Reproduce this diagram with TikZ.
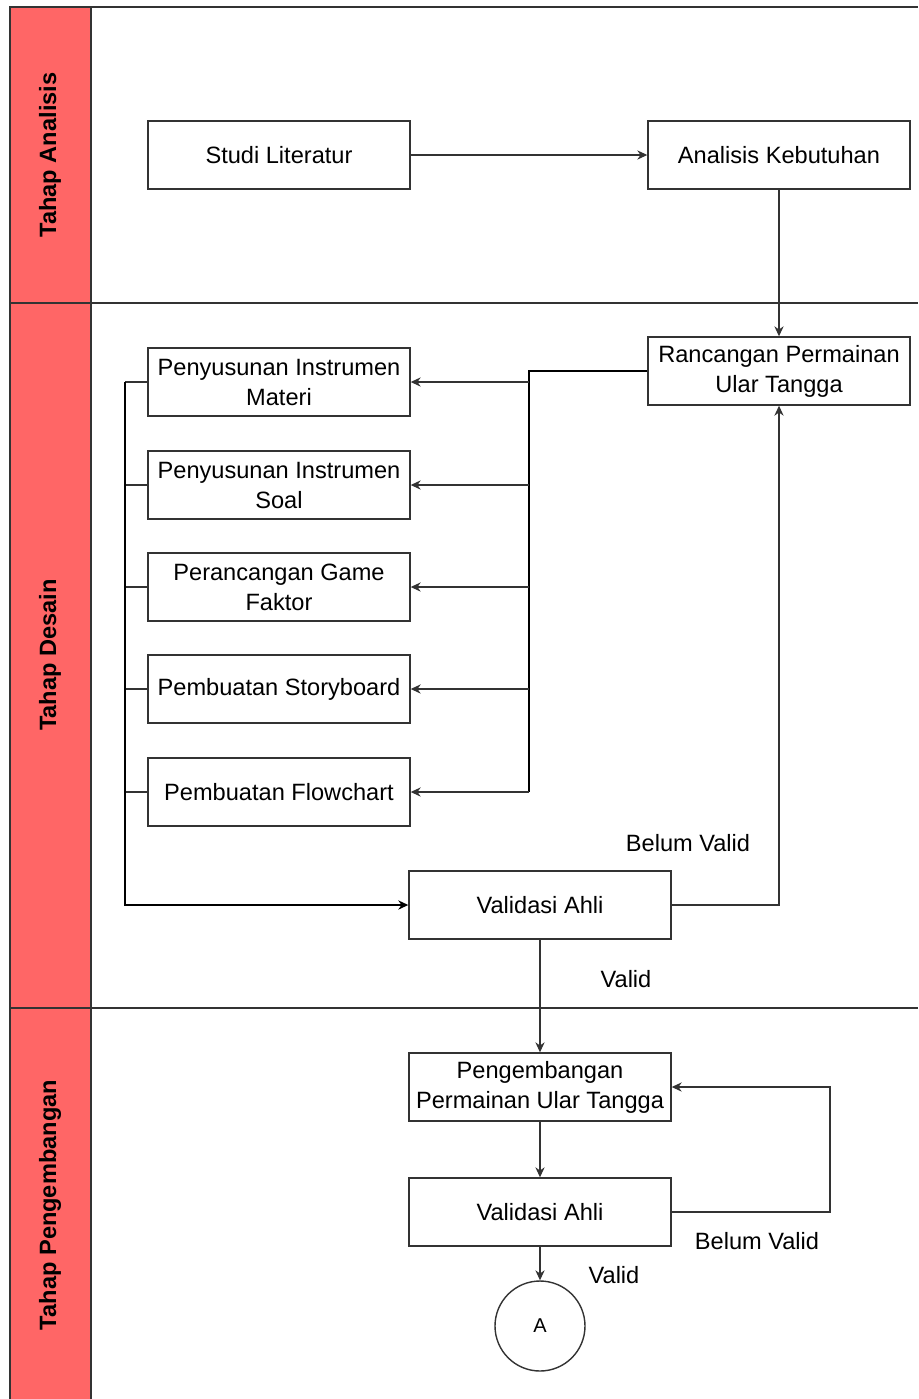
\documentclass[tikz,border=0pt]{standalone}
\usepackage{fontspec}
\setmainfont{Liberation Sans}
\usetikzlibrary{arrows.meta}
\definecolor{lanered}{HTML}{FF6666}
\definecolor{linegray}{HTML}{333333}

\begin{document}
\begin{tikzpicture}[x=0.5pt, y=-0.5pt, font=\fontsize{11.8}{15}\selectfont,
		prosesbox/.style={draw=linegray, line width=0.7pt, minimum width=131pt, minimum height=34pt, align=center, inner sep=1pt},
		alur/.style={draw=linegray, line width=0.6pt, -{Stealth[length=5pt,width=4.6pt]}},
		garis/.style={draw=linegray, line width=0.6pt},
		lanelabel/.style={rotate=90, font=\fontsize{11.8}{15}\selectfont\bfseries}]
				\useasboundingbox (0,0) rectangle (918,1399);
				% lanes
				\fill[lanered] (10,7) rectangle (91,1399);
				\draw[linegray, line width=0.8pt] (10,1399) -- (10,7) -- (918,7);
				\draw[linegray, line width=0.8pt] (91,7) -- (91,1399);
				\foreach \y in {303,1008} {
					\draw[linegray, line width=0.8pt] (10,\y) -- (918,\y);
				}
				\node[lanelabel] (laneAnalisis) at (50,155) {Tahap Analisis};
				\node[lanelabel] (laneDesain) at (50,655) {Tahap Desain};
				\node[lanelabel] (lanePengembangan) at (50,1205) {Tahap Pengembangan};
				% steps
				\node[prosesbox] (studi) at (279,155) {Studi Literatur};
				\node[prosesbox] (analisis) at (779,155) {Analisis Kebutuhan};
				\node[prosesbox] (rancangan) at (779,371) {Rancangan Permainan\\Ular Tangga};
				\node[prosesbox] (materi) at (279,382) {Penyusunan Instrumen\\Materi};
				\node[prosesbox] (soal) at (279,485) {Penyusunan Instrumen\\Soal};
				\node[prosesbox] (game) at (279,587) {Perancangan Game\\Faktor};
				\node[prosesbox] (storyboard) at (279,689) {Pembuatan Storyboard};
				\node[prosesbox] (flowchart) at (279,792) {Pembuatan Flowchart};
				\node[prosesbox] (validasiA) at (540,905) {Validasi Ahli};
				\node[prosesbox] (pengembangan) at (540,1087) {Pengembangan\\Permainan Ular Tangga};
				\node[prosesbox] (validasiB) at (540,1212) {Validasi Ahli};
				\node[draw=linegray, line width=0.7pt, circle, minimum size=45pt, inner sep=0pt, font=\fontsize{10}{12}\selectfont] (konektorA) at (540,1326) {A};
				% labels
				\node (belumA) at (688,843) {Belum Valid};
				\node (validA) at (626,979) {Valid};
				\node (belumB) at (757,1241) {Belum Valid};
				\node (validB) at (614,1275) {Valid};
				% connectors
				\coordinate (busKanan) at (529,371);
				\coordinate (busKiri) at (125,382);
				\coordinate (putar) at (830,1212);
				\draw[alur] (studi) -- (analisis);
				\draw[alur] (analisis) -- (rancangan);
				\draw[garis, line width=0.9pt, draw=black] (rancangan.west) -- (busKanan) -- (busKanan |- flowchart.east);
				\foreach \n in {materi,soal,game,storyboard,flowchart} {
					\draw[alur] (busKanan |- \n.east) -- (\n.east);
					\draw[garis] (\n.west) -- (busKiri |- \n.west);
				}
				\draw[alur, line width=0.9pt, draw=black] (busKiri) |- (validasiA.west);
				\draw[alur] (validasiA.east) -| (rancangan.south);
				\draw[alur] (validasiA) -- (pengembangan);
				\draw[alur] (pengembangan) -- (validasiB);
				\draw[alur] (validasiB.east) -- (putar) |- (pengembangan.east);
				\draw[alur] (validasiB) -- (konektorA);
			\end{tikzpicture}
\end{document}
